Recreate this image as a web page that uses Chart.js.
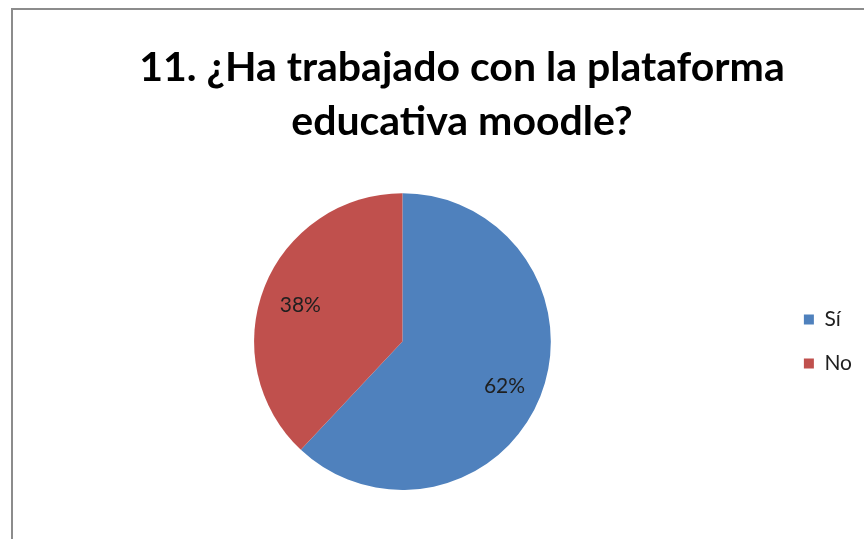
<!DOCTYPE html>
<html>
<head>
<meta charset="utf-8">
<script src="https://cdn.jsdelivr.net/npm/chart.js@4.4.1/dist/chart.umd.min.js"></script>
<style>
  html, body { margin: 0; padding: 0; background: #ffffff; overflow: hidden; }
  #frame { position: absolute; left: 11px; top: 8px; width: 880px; height: 560px;
           border-left: 2px solid #8c8c8c; border-top: 2px solid #8c8c8c; background: #fff; }
  #c { position: absolute; left: 0; top: 0; }
</style>
</head>
<body>
<div id="frame"></div>
<canvas id="c" width="864" height="539"></canvas>
<script>
const categories = ['Sí', 'No'];
const percentValues = [62, 38];
const sliceColors = ['#4F81BD', '#C0504D'];
const titleLines = ['11. ¿Ha trabajado con la plataforma', 'educativa moodle?'];

const FONT = 'Lato, Carlito, "Open Sans", sans-serif';

const titleShift = {
  id: 'titleShift',
  afterLayout(chart) {
    const t = chart.titleBlock;
    if (t) {
      const target = 462;
      const dx = target - (t.left + t.right) / 2;
      t.left += dx; t.right += dx;
    }
  }
};

const pieLabels = {
  id: 'pieLabels',
  afterDatasetsDraw(chart) {
    const ctx = chart.ctx;
    const meta = chart.getDatasetMeta(0);
    ctx.save();
    ctx.font = '21px ' + FONT;
    ctx.fillStyle = '#1f1f1f';
    ctx.textAlign = 'center';
    ctx.textBaseline = 'middle';
    meta.data.forEach((arc, i) => {
      const p = arc.getProps(['x', 'y', 'startAngle', 'endAngle', 'outerRadius'], true);
      const mid = (p.startAngle + p.endAngle) / 2;
      const r = p.outerRadius * 0.74;
      ctx.fillText(percentValues[i] + '%', p.x + Math.cos(mid) * r, p.y + Math.sin(mid) * r + 4);
    });
    ctx.restore();
  }
};

new Chart(document.getElementById('c'), {
  type: 'pie',
  data: {
    labels: categories,
    datasets: [{
      data: percentValues,
      backgroundColor: sliceColors,
      borderWidth: 0
    }]
  },
  options: {
    responsive: false,
    animation: false,
    layout: { padding: { left: 24, right: 2, top: 0, bottom: 49 } },
    plugins: {
      tooltip: { enabled: false },
      title: {
        display: true,
        text: titleLines,
        color: '#000000',
        font: { family: FONT, size: 41, weight: 'bold', lineHeight: 1.32 },
        padding: { top: 41, bottom: 44 }
      },
      legend: {
        position: 'right',
        fullSize: false,
        labels: {
          color: '#1f1f1f',
          font: { family: FONT, size: 21 },
          boxWidth: 10,
          boxHeight: 10,
          padding: 23
        }
      }
    }
  },
  plugins: [titleShift, pieLabels]
});
</script>
</body>
</html>
